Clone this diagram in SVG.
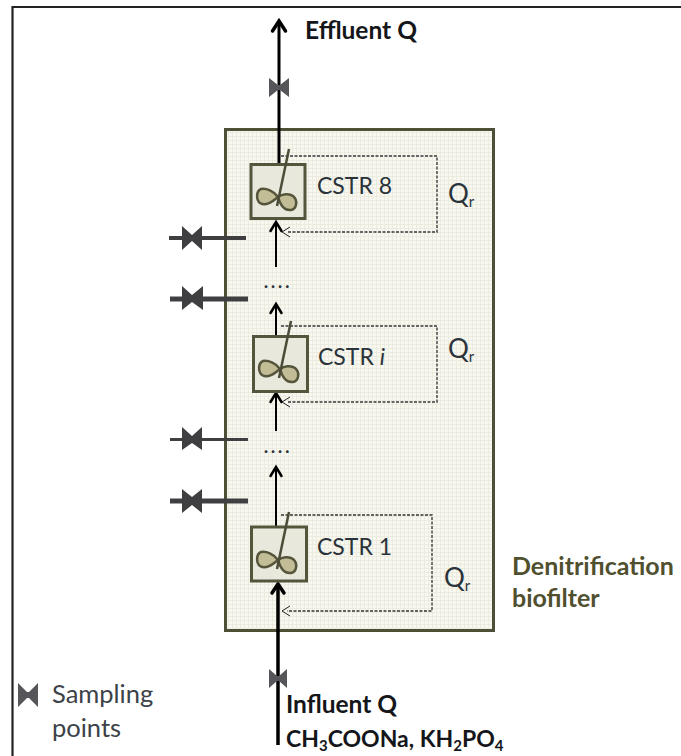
<svg xmlns="http://www.w3.org/2000/svg" width="681" height="756" viewBox="0 0 681 756">
<style>
text{font-family:Lato,"Liberation Sans",sans-serif;font-size:23px;fill:#2a323a}
.q{font-size:26px}
.b{font-weight:700;fill:#14161a;font-size:24.500px}
.f2{font-weight:700;fill:#14161a;font-size:23px}
.o{font-weight:700;fill:#50502f;font-size:25px}
.l{font-size:25.500px;fill:#3c4248}
.dt{font-size:17px;letter-spacing:3px;font-weight:900}
.box{fill:#e9e8dc;stroke:#55553c;stroke-width:3}
.lobe{fill:#c2bd97;stroke:#55553c;stroke-width:2.500}
.stem{stroke:#4d4c38;stroke-width:2.500;fill:none}
.dash{fill:none;stroke:#666;stroke-width:1.800;stroke-dasharray:3 1.500}
.thin{fill:none;stroke:#333;stroke-width:1.300;stroke-dasharray:3 1.500}
.v{fill:#56565a}
.vd{fill:#3f3f42}
.s{stroke:#3f3f42;fill:none}
.f{stroke:#000;fill:none;stroke-linecap:butt}
.h{fill:none;stroke:#000;stroke-linecap:round;stroke-linejoin:miter}
</style>
<defs>
<pattern id="grid" width="4" height="4" patternUnits="userSpaceOnUse">
<rect width="4" height="4" fill="#f8f8f1"/>
<path d="M0 .5H4M.5 0V4" stroke="#ebebdf" stroke-width="1"/>
</pattern>
<g id="imp">
<path class="lobe" d="M27 33C23 27 15 24 10 25C5 27 5 36 9 39C15 43 22 37 27 33Z"/>
<path class="lobe" d="M27 33C31 30 38 29 42 32C47 36 46 45 40 46C33 47 29 40 27 33Z"/>
<path class="stem" d="M38 -15L26 42"/>
</g>
</defs>
<rect width="681" height="756" fill="#fff"/>
<g id="frame"><path d="M12.500 756V7H681" fill="none" stroke="#222" stroke-width="2.200"/></g>
<g id="biofilter"><rect x="225.500" y="129.500" width="268" height="501" fill="url(#grid)" stroke="#4f4f38" stroke-width="3"/></g>
<g id="connectors">
<path class="f" stroke-width="3" d="M279 164V21"/>
<path class="h" stroke-width="3.500" d="M272.500 31L279 21L285.500 31"/>
<path class="f" stroke-width="2" d="M276 267V223"/>
<path class="h" stroke-width="2.500" d="M270.500 231L276 222L281.500 231"/>
<path class="f" stroke-width="2" d="M276 336V305"/>
<path class="h" stroke-width="2.500" d="M270.500 313L276 304L281.500 313"/>
<path class="f" stroke-width="2" d="M276 431V394"/>
<path class="h" stroke-width="2.500" d="M270.500 402L276 393L281.500 402"/>
<path class="f" stroke-width="2" d="M276 527V468"/>
<path class="h" stroke-width="2.500" d="M270.500 476L276 467L281.500 476"/>
<path class="f" stroke-width="3.500" d="M278 745V584"/>
<path class="h" stroke-width="3.500" d="M272 593L278 584L284 593"/>
<path class="dash" d="M281 156H437V232H287"/>
<path d="M290 227L282 232L290 237" fill="none" stroke="#222" stroke-width="1"/>
<path class="dash" d="M281 326H437V402H287"/>
<path d="M290 397L282 402L290 407" fill="none" stroke="#222" stroke-width="1"/>
<path class="thin" d="M281 515H432V611H287"/>
<path d="M290 606L282 611L290 616" fill="none" stroke="#222" stroke-width="1"/>
<path class="s" stroke-width="4" d="M169 238H246"/>
<path class="s" stroke-width="5" d="M170 299H248"/>
<path class="s" stroke-width="3" d="M170 439.500H248"/>
<path class="s" stroke-width="5" d="M170 501H248"/>
</g>
<g id="cstr8"><rect class="box" x="251" y="164.500" width="54" height="54"/><use href="#imp" x="251" y="164"/><text x="317" y="194">CSTR 8</text><text class="q" x="448" y="203">Q<tspan font-size="15" dy="4">r</tspan></text></g>
<g id="cstri"><rect class="box" x="253.500" y="336.500" width="54" height="55"/><use href="#imp" x="253" y="336"/><text x="318" y="365">CSTR <tspan font-style="italic">i</tspan></text><text class="q" x="448" y="358">Q<tspan font-size="15" dy="4">r</tspan></text></g>
<g id="cstr1"><rect class="box" x="251.500" y="527" width="55" height="54"/><use href="#imp" x="251" y="527"/><text x="317" y="555">CSTR 1</text><text class="q" x="444" y="587">Q<tspan font-size="15" dy="4">r</tspan></text></g>
<g id="dots">
<text class="dt" x="264" y="288">....</text>
<text class="dt" x="264" y="453">....</text>
</g>
<g id="valves">
<path class="v" d="M269 78L278 85L280 85L289 78V97L280 90L278 90L269 97Z"/>
<path class="vd" d="M182 226L192 235L202 226V250L192 241L182 250Z"/>
<path class="vd" d="M182 286L192 295L203 286V310L192 302L182 310Z"/>
<path class="vd" d="M182 427L192 436L202 427V450L192 443L182 450Z"/>
<path class="vd" d="M182 489L192 497L202 489V513L192 505L182 513Z"/>
<path class="v" d="M269 669L277 676L279 676L287 669V688L279 681L277 681L269 688Z"/>
<path class="v" d="M18 683L27 692L29 692L38 683V707L29 698L27 698L18 707Z"/>
</g>
<g id="labels">
<text class="b" x="305" y="39">Effluent Q</text>
<text class="o" x="512" y="575">Denitrification</text>
<text class="o" x="512" y="607">biofilter</text>
<text class="l" x="52" y="703">Sampling</text>
<text class="l" x="52" y="737">points</text>
<text class="b" x="286" y="713">Influent Q</text>
<text class="f2" x="286" y="747">CH<tspan font-size="15" dy="4">3</tspan><tspan dy="-4">COONa, KH</tspan><tspan font-size="15" dy="4">2</tspan><tspan dy="-4">PO</tspan><tspan font-size="15" dy="4">4</tspan></text>
</g>
</svg>
